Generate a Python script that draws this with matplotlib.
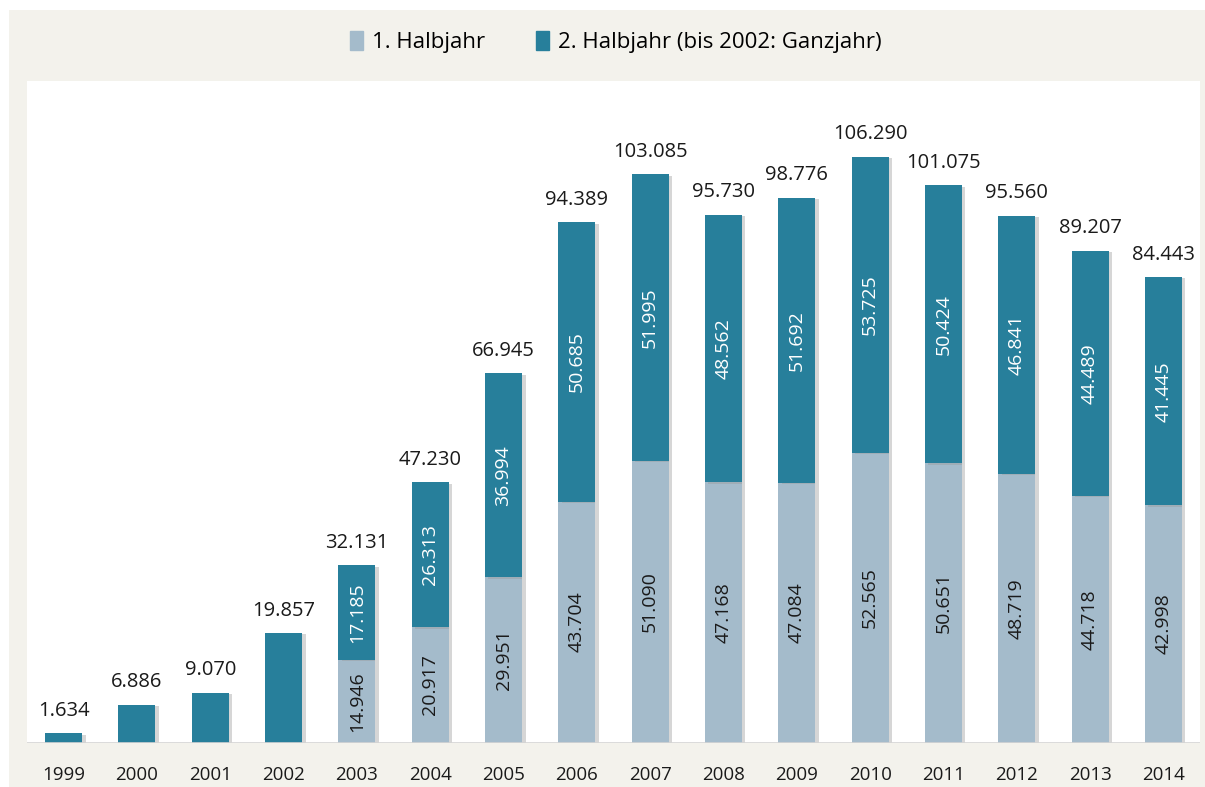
import matplotlib
matplotlib.use("Agg")
import matplotlib.pyplot as plt
import matplotlib.patches as mpatches
import matplotlib.patheffects as pe
import numpy as np

years = ["1999", "2000", "2001", "2002", "2003", "2004", "2005", "2006",
         "2007", "2008", "2009", "2010", "2011", "2012", "2013", "2014"]
first_half = [0, 0, 0, 0, 14946, 20917, 29951, 43704,
              51090, 47168, 47084, 52565, 50651, 48719, 44718, 42998]
second_half = [1634, 6886, 9070, 19857, 17185, 26313, 36994, 50685,
               51995, 48562, 51692, 53725, 50424, 46841, 44489, 41445]
totals = [1634, 6886, 9070, 19857, 32131, 47230, 66945, 94389,
          103085, 95730, 98776, 106290, 101075, 95560, 89207, 84443]

label_first = "1. Halbjahr"
label_second = "2. Halbjahr (bis 2002: Ganzjahr)"

c_light = "#a4bbcb"
c_dark = "#277f9b"
c_bg = "#f3f2ec"

plt.rcParams['font.family'] = ['Open Sans', 'DejaVu Sans']

def fmt(v):
    return "{:,}".format(v).replace(",", ".")

fig = plt.figure(figsize=(12.05, 7.87), dpi=100, facecolor="white")
W, H = 1205, 787
fig.patches.append(mpatches.Rectangle((9 / W, 0), 1 - 9 / W, 1 - 10 / H,
                                      transform=fig.transFigure, facecolor=c_bg,
                                      edgecolor="none", zorder=-10))

ax = fig.add_axes([27 / W, 44.5 / H, (1200 - 27) / W, (742.5 - 81) / H])
ax.set_facecolor("white")
x = np.arange(len(years))
bw = 0.505
shadow = [pe.SimplePatchShadow(offset=(2.5, -1), shadow_rgbFace="#999999", alpha=0.4), pe.Normal()]

b1 = ax.bar(x, first_half, width=bw, color=c_light, zorder=3, label=label_first)
b2 = ax.bar(x, second_half, width=bw, bottom=first_half, color=c_dark, zorder=3, label=label_second)
for r in list(b1) + list(b2):
    if r.get_height() > 0:
        r.set_path_effects(shadow)

for i in range(len(years)):
    ax.annotate(fmt(totals[i]), (x[i], totals[i]), xytext=(0, 9), textcoords="offset points",
                ha="center", va="bottom", fontsize=14.5, color="#1a1a1a", zorder=5)
    if first_half[i] > 0:
        ax.text(x[i], first_half[i] / 2, fmt(first_half[i]), rotation=90, ha="center", va="center",
                fontsize=14, color="#1a1a1a", zorder=5)
        ax.text(x[i], first_half[i] + second_half[i] / 2, fmt(second_half[i]), rotation=90,
                ha="center", va="center", fontsize=14, color="white", zorder=5)

ax.set_xlim(-0.5, 15.5)
ax.set_ylim(0, 120000)
ax.axhline(0, color="#d4d4d4", lw=1.2, zorder=4)
for s in ax.spines.values():
    s.set_visible(False)
ax.set_yticks([])
ax.set_xticks(x)
ax.set_xticklabels(years, fontsize=13.5, color="#1a1a1a")
ax.tick_params(axis="x", length=0, pad=17)

handles = [mpatches.Patch(color=c_light), mpatches.Patch(color=c_dark)]
fig.legend(handles, [label_first, label_second], loc="center", bbox_to_anchor=(0.511, 1 - 42 / H),
           ncol=2, frameon=False, fontsize=16, handlelength=0.6, handleheight=0.9,
           handletextpad=0.4, columnspacing=2.3)

fig.savefig("out.png", dpi=100, facecolor="white")
